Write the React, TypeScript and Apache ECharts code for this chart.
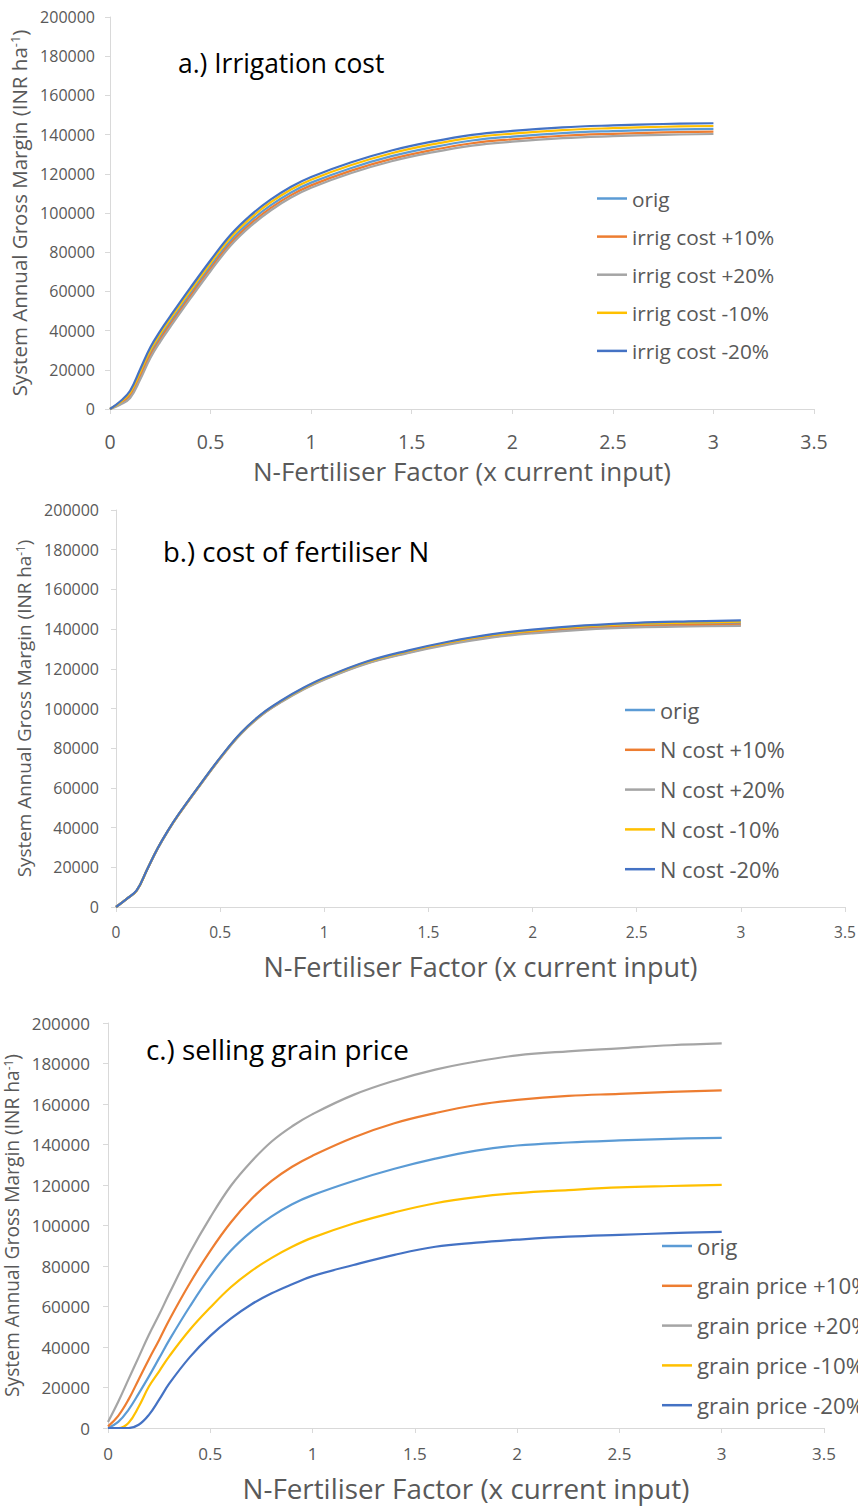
import React, { useEffect, useRef } from "react";
import * as echarts from "echarts";

// N-Fertiliser factor (x current input)
const X_FACTOR = [0, 0.05, 0.1, 0.15, 0.2, 0.25, 0.3, 0.4, 0.5, 0.6, 0.7, 0.8, 0.9, 1.0, 1.2, 1.4, 1.6, 1.8, 2.0, 2.25, 2.5, 2.75, 3.0];

// a.) Irrigation cost
const A_ORIG = [0, 3000, 7500, 17500, 28500, 37000, 44500, 59000, 73000, 86000, 96000, 104000, 110500, 115500, 123000, 129000, 133500, 137000, 139000, 140800, 141800, 142500, 142900];
const A_P10 = [0, 2600, 6500, 16200, 27100, 35600, 43100, 57600, 71600, 84600, 94600, 102600, 109100, 114100, 121600, 127600, 132100, 135600, 137600, 139400, 140400, 141100, 141500];
const A_P20 = [0, 2200, 5600, 15000, 25900, 34400, 41900, 56400, 70400, 83400, 93400, 101400, 107900, 112900, 120400, 126400, 130900, 134400, 136400, 138200, 139200, 139900, 140300];
const A_M10 = [0, 3400, 8400, 18900, 30000, 38500, 46000, 60500, 74500, 87500, 97500, 105500, 112000, 117000, 124500, 130500, 135000, 138500, 140500, 142300, 143300, 144000, 144400];
const A_M20 = [0, 3800, 9300, 20300, 31400, 39900, 47400, 61900, 75900, 88900, 98900, 106900, 113400, 118400, 125900, 131900, 136400, 139900, 141900, 143700, 144700, 145400, 145800];

// b.) cost of fertiliser N
const B_ORIG = [0, 4000, 8400, 19000, 29500, 38500, 46500, 61000, 75000, 87500, 97000, 104000, 110000, 115000, 123000, 128500, 133000, 136500, 138800, 140800, 142000, 142600, 143000];
const B_P10 = [0, 3990, 8375, 18965, 29450, 38440, 46430, 60910, 74880, 87360, 96840, 103810, 109790, 114770, 122720, 128170, 132630, 136080, 138330, 140280, 141420, 141960, 142300];
const B_P20 = [0, 3980, 8350, 18930, 29400, 38380, 46360, 60820, 74760, 87220, 96680, 103620, 109580, 114540, 122440, 127840, 132260, 135660, 137860, 139760, 140840, 141320, 141600];
const B_M10 = [0, 4010, 8425, 19035, 29550, 38560, 46570, 61090, 75120, 87640, 97160, 104190, 110210, 115230, 123280, 128830, 133370, 136920, 139270, 141320, 142580, 143240, 143700];
const B_M20 = [0, 4020, 8450, 19070, 29600, 38620, 46640, 61180, 75240, 87780, 97320, 104380, 110420, 115460, 123560, 129160, 133740, 137340, 139740, 141840, 143160, 143880, 144400];

// c.) selling grain price
const C_ORIG = [0, 3000, 9000, 17000, 25500, 34500, 43500, 60000, 75000, 87500, 97000, 104500, 110500, 115000, 122000, 128000, 133000, 137000, 139500, 141000, 142000, 142800, 143300];
const C_P10 = [800, 6000, 14000, 24000, 34000, 43500, 53500, 71500, 87500, 101500, 113000, 122000, 129000, 134500, 143500, 150500, 155500, 159500, 162000, 164000, 165000, 166000, 166700];
const C_P20 = [3000, 13000, 24000, 35000, 46000, 56000, 66500, 86500, 104000, 119500, 131500, 141500, 149000, 155000, 164500, 171500, 177000, 181000, 184000, 186000, 187500, 189000, 189900];
const C_M10 = [0, 0, 2500, 10500, 20500, 28000, 35500, 48500, 59500, 69500, 77500, 84000, 89500, 94000, 101000, 106500, 111000, 114000, 116000, 117500, 118800, 119500, 120100];
const C_M20 = [0, 0, 0, 1600, 6500, 14000, 22000, 35000, 45500, 54000, 61000, 66500, 71000, 75000, 80500, 85500, 89500, 91500, 93000, 94500, 95400, 96200, 96900];

const NAMES_A = ["orig", "irrig cost +10%", "irrig cost +20%", "irrig cost -10%", "irrig cost -20%"];
const NAMES_B = ["orig", "N cost +10%", "N cost +20%", "N cost -10%", "N cost -20%"];
const NAMES_C = ["orig", "grain price +10%", "grain price +20%", "grain price -10%", "grain price -20%"];
const TITLES = ["a.) Irrigation cost", "b.) cost of fertiliser N", "c.) selling grain price"];
const X_TITLE = "N-Fertiliser Factor (x current input)";
const Y_TITLE = "System Annual Gross Margin (INR ha{sup|-1})";

const COLORS = ["#5B9BD5", "#ED7D31", "#A5A5A5", "#FFC000", "#4472C4"];
const FONT = "'Open Sans', Lato, sans-serif";
const GREY_TEXT = "#595959";
const AXIS_GREY = "#D9D9D9";

const PANELS = [
  {
    names: NAMES_A, data: [A_ORIG, A_P10, A_P20, A_M10, A_M20],
    grid: { left: 110, top: 17, width: 704, height: 392 },
    yLabel: 16, yLabelMargin: 15, xLabel: 19.5, xLabelMargin: 22, xName: 26, xNameGap: 49, yName: 20.5, yNameGap: 75,
    title: { left: 178, top: 50, size: 26.4 },
    legend: { left: 597, top: 188, size: 20.8, gap: 17.1 },
  },
  {
    names: NAMES_B, data: [B_ORIG, B_P10, B_P20, B_M10, B_M20],
    grid: { left: 116, top: 510, width: 729, height: 397 },
    yLabel: 16, yLabelMargin: 17, xLabel: 15.5, xLabelMargin: 17, xName: 27, xNameGap: 46, yName: 18.9, yNameGap: 81,
    title: { left: 163, top: 537, size: 27.5 },
    legend: { left: 625, top: 699, size: 21.8, gap: 17.8 },
  },
  {
    names: NAMES_C, data: [C_ORIG, C_P10, C_P20, C_M10, C_M20],
    grid: { left: 108, top: 1023, width: 716, height: 405 },
    yLabel: 17, yLabelMargin: 18, xLabel: 17, xLabelMargin: 17, xName: 27.8, xNameGap: 46, yName: 19.2, yNameGap: 76,
    title: { left: 146, top: 1035, size: 27.8 },
    legend: { left: 662, top: 1235, size: 22.3, gap: 17.8 },
  },
];

export default function App() {
  const ref = useRef<HTMLDivElement>(null);
  useEffect(() => {
    if (!ref.current) return;
    const chart = echarts.init(ref.current, undefined, { renderer: "svg" });
    const grids: any[] = [];
    const xAxes: any[] = [];
    const yAxes: any[] = [];
    const series: any[] = [];
    const legends: any[] = [];
    const titles: any[] = [];
    PANELS.forEach((p, i) => {
      grids.push({ ...p.grid, containLabel: false, outerBoundsMode: "none" });
      xAxes.push({
        type: "value", gridIndex: i, min: 0, max: 3.5, interval: 0.5,
        name: X_TITLE, nameLocation: "middle", nameGap: p.xNameGap,
        nameTextStyle: { fontSize: p.xName, color: GREY_TEXT, fontFamily: FONT },
        axisLine: { show: true, lineStyle: { color: AXIS_GREY, width: 1 } },
        axisTick: { show: true, length: 5, lineStyle: { color: AXIS_GREY } },
        axisLabel: { fontSize: p.xLabel, color: GREY_TEXT, fontFamily: FONT, margin: p.xLabelMargin },
        splitLine: { show: false },
      });
      yAxes.push({
        type: "value", gridIndex: i, min: 0, max: 200000, interval: 20000,
        name: Y_TITLE, nameLocation: "middle", nameGap: p.yNameGap,
        nameTextStyle: {
          fontSize: p.yName, color: GREY_TEXT, fontFamily: FONT,
          rich: { sup: { fontSize: p.yName * 0.62, color: GREY_TEXT, fontFamily: FONT, verticalAlign: "top" } },
        },
        axisLine: { show: true, lineStyle: { color: AXIS_GREY, width: 1 } },
        axisTick: { show: true, length: 5, lineStyle: { color: AXIS_GREY } },
        axisLabel: { fontSize: p.yLabel, color: GREY_TEXT, fontFamily: FONT, margin: p.yLabelMargin, formatter: (v: number) => String(v) },
        splitLine: { show: false },
      });
      p.names.forEach((n, k) => {
        series.push({
          name: n, type: "line", xAxisIndex: i, yAxisIndex: i,
          data: X_FACTOR.map((x, j) => [x, p.data[k][j]]),
          smooth: 0.4, symbol: "none", showSymbol: false,
          lineStyle: { color: COLORS[k], width: 2.2 }, itemStyle: { color: COLORS[k] },
          z: 2 + k,
        });
      });
      legends.push({
        data: p.names, orient: "vertical", left: p.legend.left, top: p.legend.top,
        icon: "rect", itemWidth: 30, itemHeight: 2.5, itemGap: p.legend.gap, padding: 0,
        textStyle: { fontSize: p.legend.size, color: GREY_TEXT, fontFamily: FONT },
        selectedMode: false,
      });
      titles.push({
        text: TITLES[i], left: p.title.left, top: p.title.top, padding: 0,
        textStyle: { fontSize: p.title.size, color: "#000", fontWeight: "normal", fontFamily: FONT },
      });
    });
    chart.setOption({
      animation: false,
      backgroundColor: "#fff",
      title: titles,
      grid: grids,
      xAxis: xAxes,
      yAxis: yAxes,
      legend: legends,
      series,
    });
    return () => chart.dispose();
  }, []);
  return (
    <div
      ref={ref}
      style={{ position: "absolute", left: 0, top: 0, width: 858, height: 1508, background: "#fff" }}
    />
  );
}
